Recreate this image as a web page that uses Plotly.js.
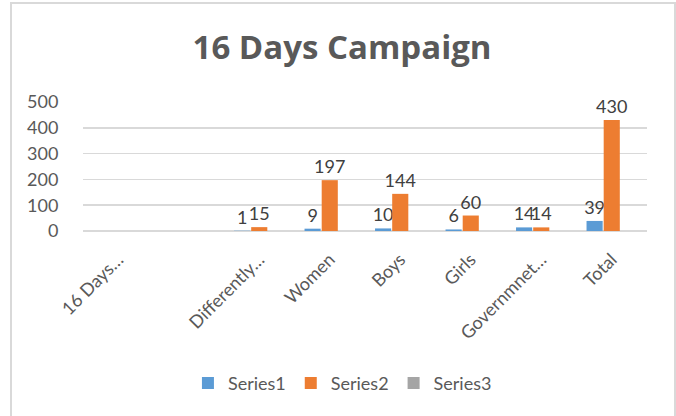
<!DOCTYPE html>
<html>
<head>
<meta charset="utf-8">
<script src="https://cdn.plot.ly/plotly-3.0.1.min.js"></script>
<style>
  body { margin: 0; background: #fff; }
  #frame { position: absolute; left: 10px; top: 2px; width: 662px; height: 420px; border: 2px solid #d9d9d9; }
  #plot { position: absolute; left: 0; top: 0; width: 676px; height: 416px; }
</style>
</head>
<body>
<div id="frame"></div>
<div id="plot"></div>
<script>
// categories (second one has no label in the original)
var categories = ['16 Days…', ' ', 'Differently…', 'Women', 'Boys', 'Girls', 'Governmnet…', 'Total'];
var series1 = [null, null, 1, 9, 10, 6, 14, 39];
var series2 = [null, null, 15, 197, 144, 60, 14, 430];
var series3 = [null, null, null, null, null, null, null, null];

var labelFont = { family: 'Lato, "Open Sans", sans-serif', size: 18, color: '#404040' };

function makeTrace(name, vals, color) {
  return {
    type: 'bar',
    name: name,
    x: categories,
    y: vals,
    marker: { color: color },
    text: vals.map(function (v) { return v === null ? '' : String(v); }),
    textposition: 'outside',
    textfont: labelFont,
    constraintext: 'none',
    cliponaxis: false,
    hoverinfo: 'none'
  };
}

var data = [
  makeTrace('Series1', series1, '#5b9bd5'),
  makeTrace('Series2', series2, '#ed7d31'),
  makeTrace('Series3', series3, '#a5a5a5')
];

var layout = {
  width: 676,
  height: 416,
  margin: { l: 83, r: 29, t: 102, b: 185 },
  paper_bgcolor: 'rgba(0,0,0,0)',
  plot_bgcolor: 'rgba(0,0,0,0)',
  font: { family: 'Lato, "Open Sans", sans-serif', color: '#595959', size: 16 },
  title: {
    text: '<b>16 Days Campaign</b>',
    font: { size: 33, color: '#595959', family: '"Open Sans", Lato, sans-serif' },
    x: 0.506, xanchor: 'center',
    y: 0.885, yanchor: 'middle'
  },
  barmode: 'group',
  bargap: 0.27,
  bargroupgap: 0.06,
  xaxis: {
    type: 'category',
    tickangle: -45,
    ticks: 'outside',
    ticklen: 10,
    tickcolor: 'rgba(0,0,0,0)',
    tickfont: { size: 18, color: '#595959' },
    showline: false,
    showgrid: false,
    fixedrange: true
  },
  yaxis: {
    range: [0, 500],
    tickvals: [0, 100, 200, 300, 400, 500],
    ticks: 'outside',
    ticklen: 20,
    tickcolor: 'rgba(0,0,0,0)',
    tickfont: { size: 18, color: '#595959' },
    gridcolor: '#d9d9d9',
    gridwidth: 1.5,
    zeroline: true,
    zerolinecolor: '#d9d9d9',
    zerolinewidth: 1.5,
    showline: false,
    fixedrange: true
  },
  showlegend: true,
  legend: {
    orientation: 'h',
    x: 0.46, xanchor: 'center',
    y: -1.18, yanchor: 'middle',
    font: { size: 18, color: '#595959' },
    itemwidth: 30,
    traceorder: 'normal'
  }
};

Plotly.newPlot('plot', data, layout, { displayModeBar: false, staticPlot: true });
</script>
</body>
</html>
